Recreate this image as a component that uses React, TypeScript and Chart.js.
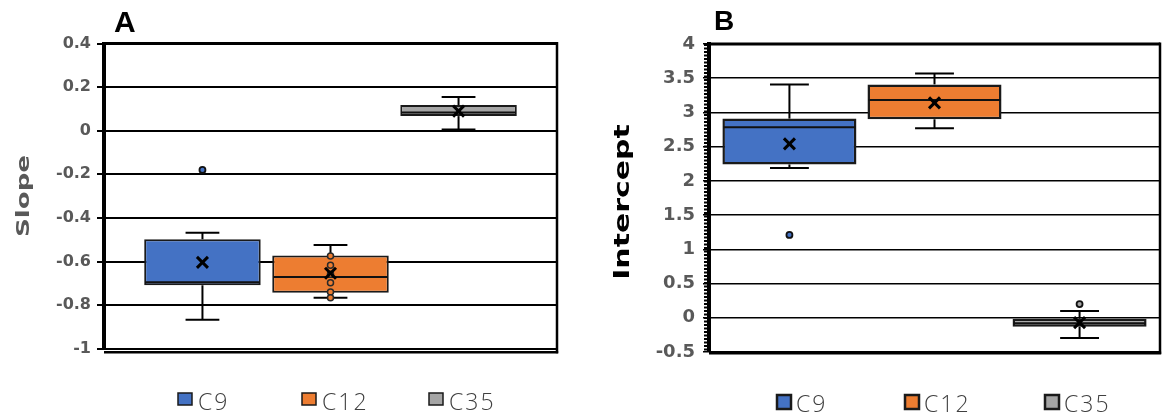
import React, { useEffect, useRef } from 'react';
import { Chart, registerables } from 'chart.js';

Chart.register(...registerables);

// ---------- data ----------
const categories = ['C9', 'C12', 'C35'];
const seriesColors = ['#4472C4', '#ED7D31', '#A5A5A5'];

// Panel A: Slope
const slopeQ1 = [-0.709, -0.743, 0.067];
const slopeQ3 = [-0.498, -0.573, 0.118];
const slopeMedian = [-0.695, -0.671, 0.083];
const slopeMean = [-0.604, -0.654, 0.09];
const slopeMin = [-0.867, -0.766, 0.005];
const slopeMax = [-0.468, -0.524, 0.155];
const slopeOutliers = [[-0.18], [], []];
const slopeInner = [[], [-0.575, -0.617, -0.659, -0.697, -0.74, -0.766], []];
const slopeTicks = [0.4, 0.2, 0, -0.2, -0.4, -0.6, -0.8, -1];

// Panel B: Intercept
const interceptQ1 = [2.24, 2.9, -0.13];
const interceptQ3 = [2.91, 3.41, -0.015];
const interceptMedian = [2.785, 3.18, -0.08];
const interceptMean = [2.54, 3.14, -0.07];
const interceptMin = [2.19, 2.77, -0.295];
const interceptMax = [3.41, 3.57, 0.1];
const interceptOutliers = [[1.21], [], [0.2]];
const interceptInner = [[], [], []];
const interceptTicks = [4, 3.5, 3, 2.5, 2, 1.5, 1, 0.5, 0, -0.5];

type PanelCfg = {
  letter: string;
  title: string;
  titleColor: string;
  q1: number[];
  q3: number[];
  median: number[];
  mean: number[];
  min: number[];
  max: number[];
  outliers: number[][];
  inner: number[][];
  ticks: number[];
  yMin: number;
  yMax: number;
  left: number;
  width: number;
  height: number;
  area: { left: number; right: number; top: number; bottom: number };
  catPct: number;
  barPct: number;
  tickSize: number;
  tickPad: number;
  tickLen: number;
  gridWidth: number;
  axisWidth: number;
  boxBorder: number;
  letterFont: string;
  letterPos: [number, number];
  titleFont: string;
  titleCenter: [number, number];
  titleStretch: number;
  legendX: number[];
  legendSquare: { top: number; w: number; h: number; border: number };
  legendTextOffset: number;
  legendBaseline: number;
  bottomBorderOffset: number;
  serratedAxis: boolean;
};

const panelA: PanelCfg = {
  letter: 'A',
  title: 'Slope',
  titleColor: '#595959',
  q1: slopeQ1,
  q3: slopeQ3,
  median: slopeMedian,
  mean: slopeMean,
  min: slopeMin,
  max: slopeMax,
  outliers: slopeOutliers,
  inner: slopeInner,
  ticks: slopeTicks,
  yMin: -1,
  yMax: 0.4,
  left: 0,
  width: 580,
  height: 417,
  area: { left: 104, right: 557, top: 43.5, bottom: 348.7 },
  catPct: 0.848,
  barPct: 0.91,
  tickSize: 16,
  tickPad: 6,
  tickLen: 7,
  gridWidth: 2,
  axisWidth: 4,
  boxBorder: 2,
  letterFont: 'bold 30px "Liberation Sans", Arial, sans-serif',
  letterPos: [114, 32],
  titleFont: 'bold 18px "DejaVu Sans", sans-serif',
  titleCenter: [24, 196],
  titleStretch: 1.45,
  legendX: [178, 302, 429],
  legendSquare: { top: 393, w: 14, h: 12, border: 1.5 },
  legendTextOffset: 20,
  legendBaseline: 410,
  bottomBorderOffset: 3.5,
  serratedAxis: false,
};

const panelB: PanelCfg = {
  letter: 'B',
  title: 'Intercept',
  titleColor: '#000000',
  q1: interceptQ1,
  q3: interceptQ3,
  median: interceptMedian,
  mean: interceptMean,
  min: interceptMin,
  max: interceptMax,
  outliers: interceptOutliers,
  inner: interceptInner,
  ticks: interceptTicks,
  yMin: -0.5,
  yMax: 4,
  left: 580,
  width: 586,
  height: 417,
  area: { left: 129, right: 580, top: 44, bottom: 352 },
  catPct: 0.965,
  barPct: 0.924,
  tickSize: 18,
  tickPad: 8,
  tickLen: 6,
  gridWidth: 1.5,
  axisWidth: 4,
  boxBorder: 2.5,
  letterFont: 'bold 28px "Liberation Sans", Arial, sans-serif',
  letterPos: [134, 30],
  titleFont: 'bold 22px "DejaVu Sans", sans-serif',
  titleCenter: [43, 202],
  titleStretch: 1.36,
  legendX: [197, 325, 465],
  legendSquare: { top: 395, w: 14, h: 14, border: 2.5 },
  legendTextOffset: 19,
  legendBaseline: 412,
  bottomBorderOffset: 1,
  serratedAxis: true,
};

function makePlugin(cfg: PanelCfg) {
  return {
    id: 'boxExtras' + cfg.letter,
    afterDatasetsDraw(chart: any) {
      const ctx: CanvasRenderingContext2D = chart.ctx;
      const ys = chart.scales.y;
      const py = (v: number) => ys.getPixelForValue(v);
      const line = (x1: number, y1: number, x2: number, y2: number) => {
        ctx.beginPath();
        ctx.moveTo(x1, y1);
        ctx.lineTo(x2, y2);
        ctx.stroke();
      };
      categories.forEach((_, i) => {
        const bar = chart.getDatasetMeta(i).data[0];
        const x = bar.x;
        const w = bar.width;
        const cap = (w * 0.29) / 2;
        ctx.save();
        ctx.strokeStyle = '#000';
        ctx.lineWidth = 2;
        // whiskers
        const yTop = py(cfg.max[i]);
        const yBot = py(cfg.min[i]);
        line(x, py(cfg.q3[i]), x, yTop);
        line(x - cap, yTop, x + cap, yTop);
        line(x, py(cfg.q1[i]), x, yBot);
        line(x - cap, yBot, x + cap, yBot);
        // median
        ctx.strokeStyle = '#111';
        line(x - w / 2 + 1, py(cfg.median[i]), x + w / 2 - 1, py(cfg.median[i]));
        // inner points
        cfg.inner[i].forEach((v) => {
          ctx.beginPath();
          ctx.arc(x, py(v), 3, 0, Math.PI * 2);
          ctx.fillStyle = seriesColors[i];
          ctx.fill();
          ctx.lineWidth = 1.5;
          ctx.strokeStyle = '#2a2a2a';
          ctx.stroke();
        });
        // mean marker
        const my = py(cfg.mean[i]);
        const s = 5.5;
        ctx.strokeStyle = '#000';
        ctx.lineWidth = 3;
        line(x - s, my - s, x + s, my + s);
        line(x - s, my + s, x + s, my - s);
        // outliers
        cfg.outliers[i].forEach((v) => {
          ctx.beginPath();
          ctx.arc(x, py(v), 3, 0, Math.PI * 2);
          ctx.fillStyle = seriesColors[i];
          ctx.fill();
          ctx.lineWidth = 1.8;
          ctx.strokeStyle = '#111';
          ctx.stroke();
        });
        ctx.restore();
      });
    },
    afterDraw(chart: any) {
      const ctx: CanvasRenderingContext2D = chart.ctx;
      const a = chart.chartArea;
      ctx.save();
      ctx.strokeStyle = '#000';
      // frame: top, right, bottom
      ctx.lineWidth = 3;
      ctx.beginPath();
      ctx.moveTo(a.left, a.top);
      ctx.lineTo(a.right, a.top);
      ctx.stroke();
      ctx.lineWidth = 2.5;
      ctx.beginPath();
      ctx.moveTo(a.right, a.top - 1.5);
      ctx.lineTo(a.right, a.bottom + cfg.bottomBorderOffset + 1);
      ctx.stroke();
      ctx.lineWidth = cfg.serratedAxis ? 3 : 2.5;
      ctx.beginPath();
      ctx.moveTo(a.left, a.bottom + cfg.bottomBorderOffset);
      ctx.lineTo(a.right + 1.2, a.bottom + cfg.bottomBorderOffset);
      ctx.stroke();
      if (cfg.serratedAxis) {
        ctx.lineWidth = 3;
        ctx.setLineDash([2, 1.5]);
        ctx.beginPath();
        ctx.moveTo(a.left - 3.5, a.top);
        ctx.lineTo(a.left - 3.5, a.bottom);
        ctx.stroke();
        ctx.setLineDash([]);
      }
      // panel letter
      ctx.fillStyle = '#000';
      ctx.font = cfg.letterFont;
      ctx.textAlign = 'left';
      ctx.textBaseline = 'alphabetic';
      ctx.fillText(cfg.letter, cfg.letterPos[0], cfg.letterPos[1]);
      // axis title (rotated)
      ctx.save();
      ctx.translate(cfg.titleCenter[0], cfg.titleCenter[1]);
      ctx.rotate(-Math.PI / 2);
      ctx.scale(cfg.titleStretch, 1);
      ctx.font = cfg.titleFont;
      ctx.fillStyle = cfg.titleColor;
      ctx.textAlign = 'center';
      ctx.textBaseline = 'middle';
      ctx.fillText(cfg.title, 0, 0);
      ctx.restore();
      // legend
      const sq = cfg.legendSquare;
      chart.data.datasets.forEach((ds: any, i: number) => {
        const lx = cfg.legendX[i];
        ctx.fillStyle = ds.backgroundColor;
        ctx.fillRect(lx, sq.top, sq.w, sq.h);
        ctx.lineWidth = sq.border;
        ctx.strokeStyle = '#1a1a1a';
        ctx.strokeRect(lx, sq.top, sq.w, sq.h);
        ctx.fillStyle = '#404040';
        ctx.font = '300 23px "Open Sans", sans-serif';
        (ctx as any).letterSpacing = '2px';
        ctx.textAlign = 'left';
        ctx.textBaseline = 'alphabetic';
        ctx.fillText(ds.label, lx + cfg.legendTextOffset, cfg.legendBaseline);
        (ctx as any).letterSpacing = '0px';
      });
      ctx.restore();
    },
  };
}

function BoxPanel({ cfg }: { cfg: PanelCfg }) {
  const ref = useRef<HTMLCanvasElement | null>(null);
  useEffect(() => {
    if (!ref.current) return;
    const chart = new Chart(ref.current, {
      type: 'bar',
      data: {
        labels: [''],
        datasets: categories.map((name, i) => ({
          label: name,
          data: [[cfg.q1[i], cfg.q3[i]]] as any,
          backgroundColor: seriesColors[i],
          borderColor: '#1a1a1a',
          borderWidth: cfg.boxBorder,
          borderSkipped: false,
          categoryPercentage: cfg.catPct,
          barPercentage: cfg.barPct,
        })),
      },
      options: {
        responsive: false,
        animation: false,
        devicePixelRatio: 1,
        layout: {
          padding: {
            left: 0,
            top: cfg.area.top,
            right: cfg.width - cfg.area.right,
            bottom: cfg.height - cfg.area.bottom,
          },
        },
        plugins: {
          legend: { display: false },
          tooltip: { enabled: false },
          title: { display: false },
        },
        scales: {
          x: { display: false },
          y: {
            min: cfg.yMin,
            max: cfg.yMax,
            afterFit: (s: any) => {
              s.width = cfg.area.left;
            },
            afterBuildTicks: (s: any) => {
              s.ticks = cfg.ticks.map((v) => ({ value: v }));
            },
            ticks: {
              autoSkip: false,
              callback: (v: any) => String(v),
              font: { family: '"DejaVu Sans", sans-serif', weight: 'bold', size: cfg.tickSize },
              color: '#595959',
              padding: cfg.tickPad,
            },
            grid: {
              color: '#000',
              lineWidth: cfg.gridWidth,
              tickLength: cfg.tickLen,
              drawTicks: true,
            },
            border: { display: true, color: '#000', width: cfg.axisWidth },
          },
        },
      } as any,
      plugins: [makePlugin(cfg)],
    });
    return () => chart.destroy();
  }, [cfg]);
  return (
    <canvas
      ref={ref}
      width={cfg.width}
      height={cfg.height}
      style={{ position: 'absolute', left: cfg.left, top: 0, width: cfg.width, height: cfg.height }}
    />
  );
}

export default function App() {
  return (
    <div
      style={{
        position: 'absolute',
        left: 0,
        top: 0,
        width: 1166,
        height: 417,
        background: '#fff',
        overflow: 'hidden',
      }}
    >
      <BoxPanel cfg={panelA} />
      <BoxPanel cfg={panelB} />
    </div>
  );
}
